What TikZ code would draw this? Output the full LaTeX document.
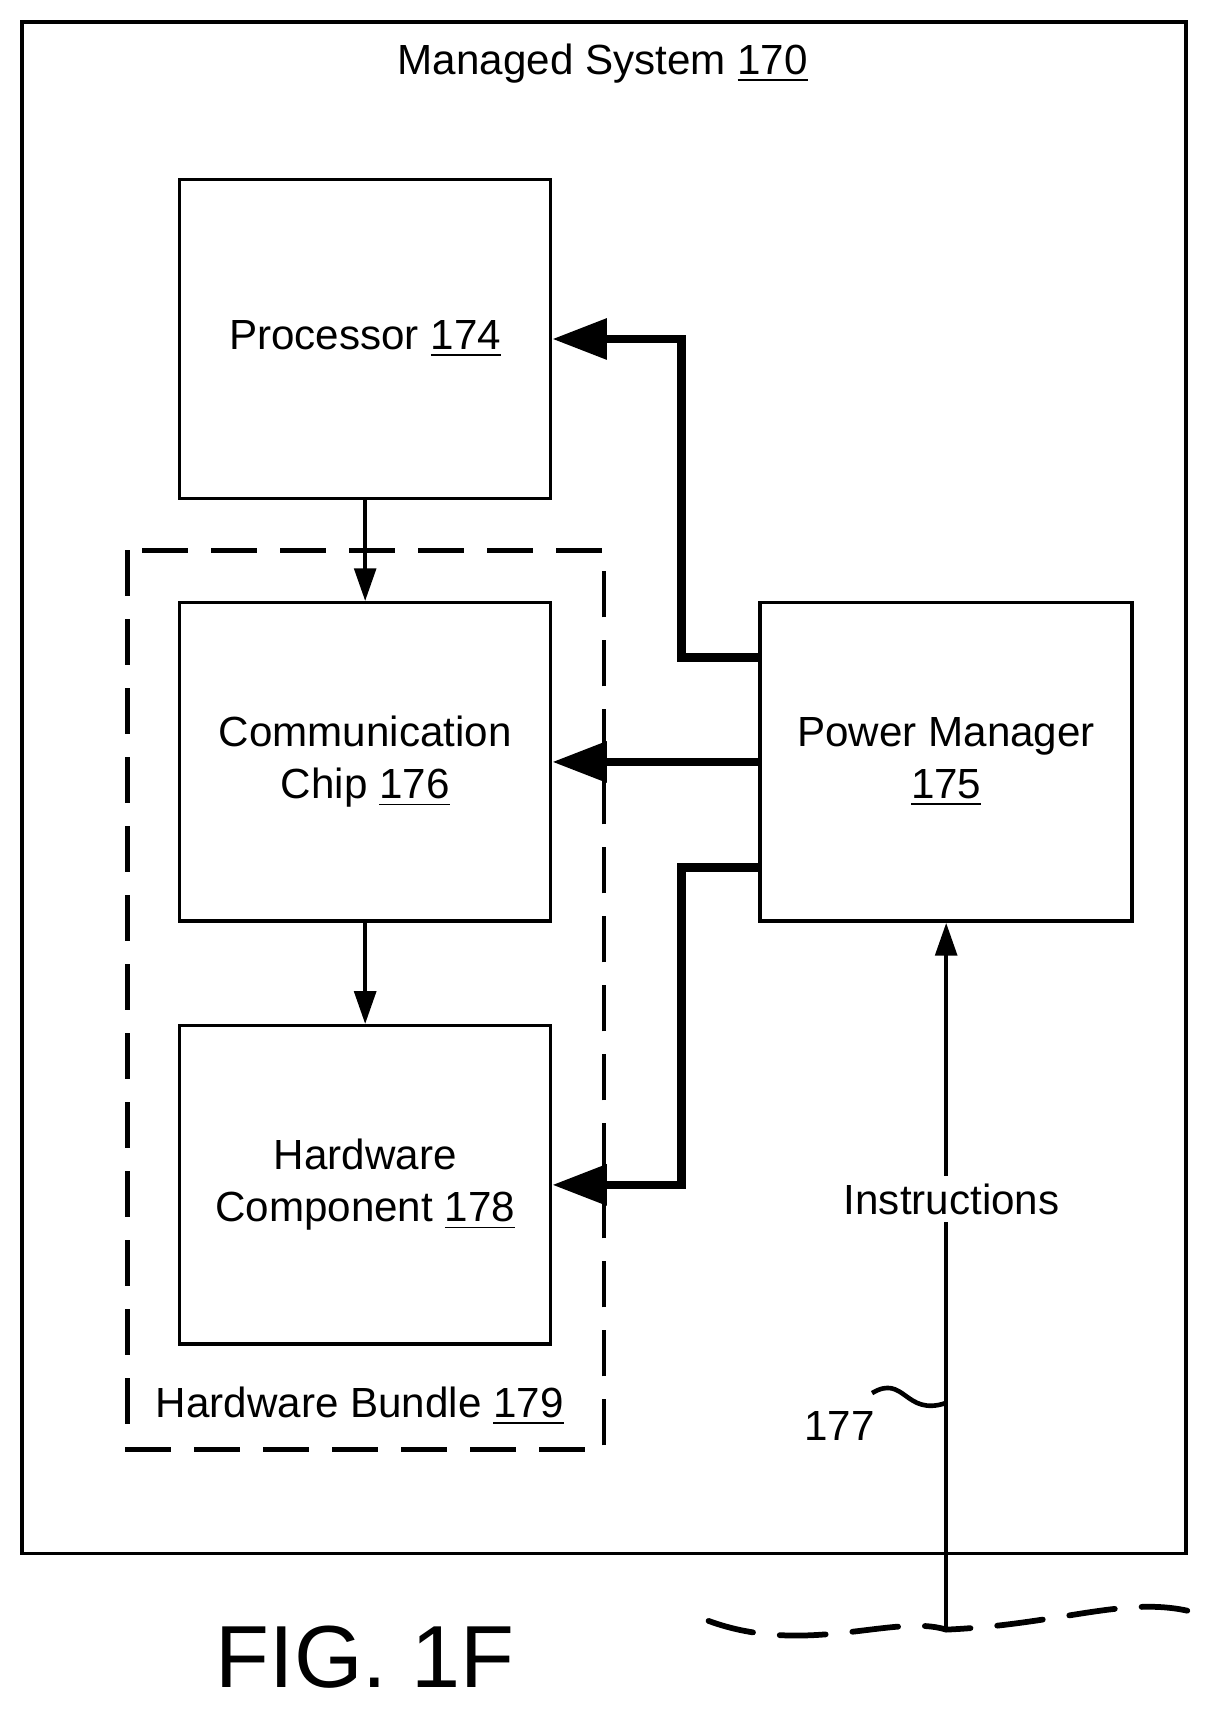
\documentclass[tikz,border=0pt]{standalone}
\usepackage{fontspec}
\setmainfont{Liberation Sans}
\usetikzlibrary{arrows.meta,positioning}
\tikzset{
  blk/.style={draw,line width=0.9pt,minimum width=3.4cm,minimum height=2.92cm,align=center,inner sep=0pt},
  thin/.style={line width=0.9pt,-{Triangle[length=0.3cm,width=0.2cm]}},
  thick/.style={line width=2.2pt,-{Triangle[length=0.5cm,width=0.36cm]}},
  lbl/.style={font=\fontsize{11}{13.5}\selectfont}
}
\begin{document}
\begin{tikzpicture}[x=0.01cm,y=-0.01cm,lbl]
\useasboundingbox (0,0) rectangle (1130,1577);
% outer system
\draw[line width=0.9pt] (20,20) rectangle (1088,1425);
\node (sys) at (553,58) {Managed System \underline{170}};
% blocks
\node[blk] (proc) at (335,311) {Processor \underline{174}};
\node[blk] (comm) at (335,699) {Communication\\Chip \underline{176}};
\node[blk] (hw) at (335,1087) {Hardware\\Component \underline{178}};
\node[blk,minimum width=3.41cm] (pm) at (868,699) {Power Manager\\\underline{175}};
% bundle
\draw[line width=1.2pt,dash pattern=on 12pt off 6pt] (117,505) rectangle (554,1330);
\node (bun) at (330,1290) {Hardware Bundle \underline{179}};
% data flow
\draw[thin] (proc) -- (comm);
\draw[thin] (comm) -- (hw);
\draw[thick] (pm.west |- 0,603) -- (625,603) -- (625,311) -- (proc.east);
\draw[thick] (pm.west) -- (comm.east);
\draw[thick] (pm.west |- 0,796) -- (625,796) -- (625,1087) -- (hw.east);
% instructions
\coordinate (src) at (868,1495);
\draw[line width=0.9pt,-{Triangle[length=0.3cm,width=0.2cm]}] (src) -- (pm.south);
\node[fill=white,inner sep=2pt] (ins) at (873,1100) {Instructions};
\draw[line width=1.2pt] (868,1287) .. controls (830,1300) and (830,1260) .. (800,1278);
\node (ref) at (770,1308) {177};
\draw[line width=1.5pt,dash pattern=on 12pt off 7pt,line cap=round] (650,1487) .. controls (740,1520) and (820,1480) .. (868,1495) .. controls (980,1490) and (1040,1460) .. (1105,1482);
\node[font=\fontsize{23}{28}\selectfont] (fig) at (335,1520) {FIG. 1F};
\end{tikzpicture}
\end{document}
